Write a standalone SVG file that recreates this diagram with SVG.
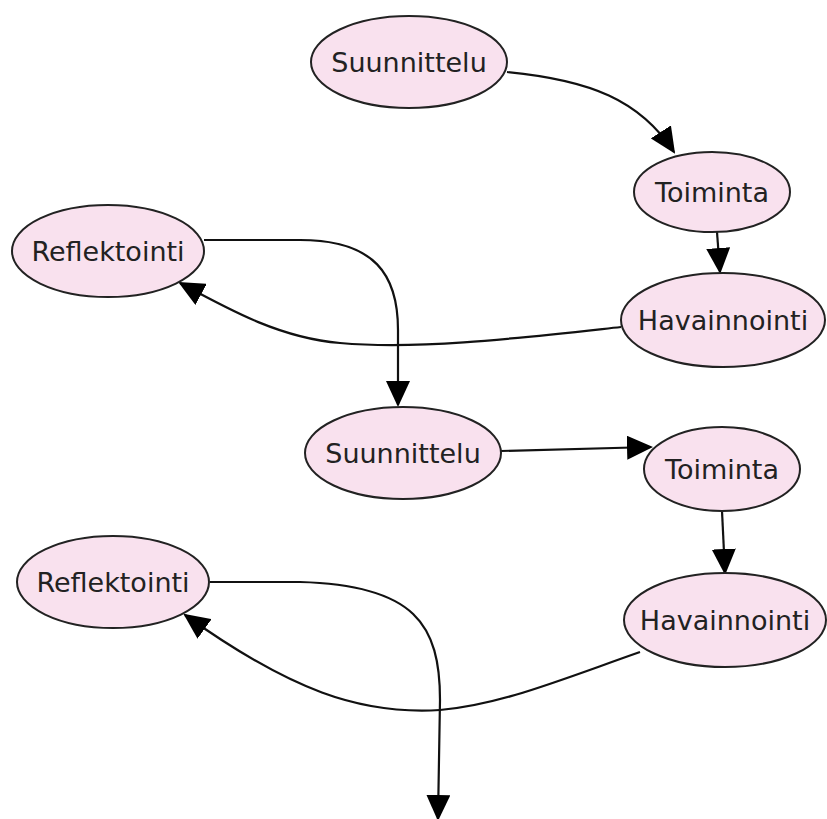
<svg xmlns="http://www.w3.org/2000/svg" width="827" height="819" viewBox="0 0 827 819">
<style>
.n ellipse{fill:#f9e1ee;stroke:#222;stroke-width:2}
.n text{font-family:"DejaVu Sans",Verdana,sans-serif;font-size:27px;fill:#222;text-anchor:middle;dominant-baseline:central}
.e path{fill:none;stroke:#111;stroke-width:2.2}
</style>
<defs>
<marker id="a" markerUnits="userSpaceOnUse" markerWidth="26" markerHeight="24" refX="24" refY="12" orient="auto">
<path d="M0,0 L26,12 L0,24 Z" fill="#000"/>
</marker>
</defs>
<g class="e">
<path d="M507,72 C590,80 640,100 674,152" marker-end="url(#a)"/>
<path d="M717,232 L720,272" marker-end="url(#a)"/>
<path d="M621,327 C520,338 420,350 340,343 C280,338 230,310 180,283" marker-end="url(#a)"/>
<path d="M204,240 L300,240 C375,240 398,275 398,330 L398,405" marker-end="url(#a)"/>
<path d="M501,451 L651,447" marker-end="url(#a)"/>
<path d="M722,511 L725,573" marker-end="url(#a)"/>
<path d="M640,652 C560,680 500,705 440,710 C360,715 290,690 185,615" marker-end="url(#a)"/>
<path d="M210,582 L300,582 C415,585 440,625 440,700 L438,819" marker-end="url(#a)"/>
</g>
<g id="suunnittelu1" class="n"><ellipse cx="409" cy="62" rx="98" ry="46"/><text x="409" y="62">Suunnittelu</text></g>
<g id="toiminta1" class="n"><ellipse cx="712" cy="192" rx="78" ry="40"/><text x="712" y="192">Toiminta</text></g>
<g id="havainnointi1" class="n"><ellipse cx="723" cy="320" rx="102" ry="47"/><text x="723" y="320">Havainnointi</text></g>
<g id="reflektointi1" class="n"><ellipse cx="108" cy="251" rx="96" ry="46"/><text x="108" y="251">Reflektointi</text></g>
<g id="suunnittelu2" class="n"><ellipse cx="403" cy="453" rx="98" ry="46"/><text x="403" y="453">Suunnittelu</text></g>
<g id="toiminta2" class="n"><ellipse cx="722" cy="469" rx="78" ry="42"/><text x="722" y="469">Toiminta</text></g>
<g id="havainnointi2" class="n"><ellipse cx="725" cy="620" rx="101" ry="47"/><text x="725" y="620">Havainnointi</text></g>
<g id="reflektointi2" class="n"><ellipse cx="113" cy="582" rx="96" ry="46"/><text x="113" y="582">Reflektointi</text></g>
</svg>
